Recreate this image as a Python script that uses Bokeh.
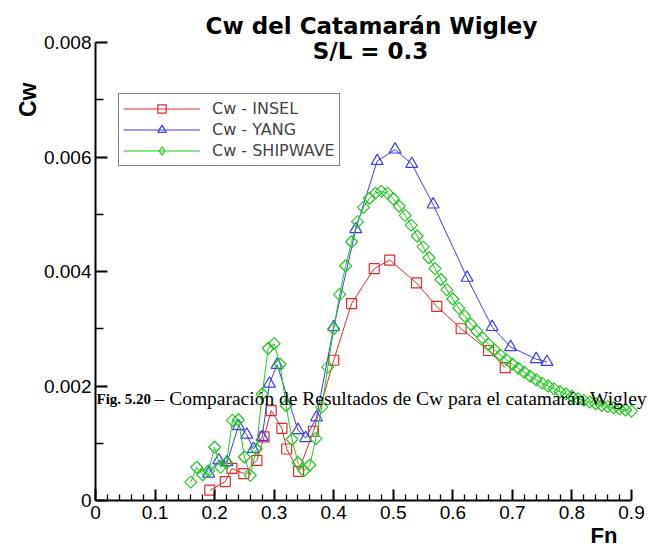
from bokeh.plotting import figure
from bokeh.models import (FixedTicker, Label, Legend, LegendItem, Range1d,
                          PrintfTickFormatter, Title, ColumnDataSource)
from bokeh.embed import file_html
from bokeh.resources import INLINE
import numpy as np

# ---- data ----
insel_fn = [0.192, 0.218, 0.229, 0.249, 0.271, 0.283, 0.295, 0.313, 0.321, 0.341,
            0.366, 0.400, 0.430, 0.468, 0.494, 0.539, 0.573, 0.614, 0.660, 0.688]
insel_cw = [0.00018, 0.00033, 0.00056, 0.00047, 0.00070, 0.00111, 0.00157, 0.00126,
            0.00090, 0.00051, 0.00121, 0.00245, 0.00344, 0.00405, 0.00420, 0.00380,
            0.00339, 0.00300, 0.00262, 0.00232]

yang_fn = [0.190, 0.207, 0.221, 0.240, 0.254, 0.265, 0.280, 0.292, 0.305, 0.340,
           0.353, 0.371, 0.400, 0.437, 0.473, 0.503, 0.531, 0.567, 0.624, 0.666,
           0.697, 0.740, 0.758]
yang_cw = [0.00047, 0.00070, 0.00067, 0.00130, 0.00115, 0.00090, 0.00111, 0.00204,
           0.00237, 0.00123, 0.00109, 0.00145, 0.00303, 0.00474, 0.00593, 0.00613,
           0.00588, 0.00517, 0.00389, 0.00303, 0.00268, 0.00247, 0.00242]

ship_fn = [0.16, 0.17, 0.18, 0.19, 0.20, 0.21, 0.22, 0.23, 0.24, 0.25,
           0.26, 0.27, 0.28, 0.29, 0.30, 0.31, 0.32, 0.33, 0.34, 0.35,
           0.36, 0.37, 0.38, 0.39, 0.40, 0.41, 0.42, 0.43, 0.44, 0.45,
           0.46, 0.47, 0.48, 0.49, 0.50, 0.51, 0.52, 0.53, 0.54, 0.55,
           0.56, 0.57, 0.58, 0.59, 0.60, 0.61, 0.62, 0.63, 0.64, 0.65,
           0.66, 0.67, 0.68, 0.69, 0.70, 0.71, 0.72, 0.73, 0.74, 0.75,
           0.76, 0.77, 0.78, 0.79, 0.80, 0.81, 0.82, 0.83, 0.84, 0.85,
           0.86, 0.87, 0.88, 0.89, 0.90]
ship_cw = [0.00032, 0.00058, 0.00045, 0.00052, 0.00093, 0.00058, 0.00066, 0.00140, 0.00141, 0.00076,
           0.00044, 0.00090, 0.00186, 0.00266, 0.00274, 0.00238, 0.00166, 0.00107, 0.00066, 0.00052,
           0.00062, 0.00108, 0.00163, 0.00233, 0.00300, 0.00360, 0.00410, 0.00452, 0.00487, 0.00512,
           0.00528, 0.00537, 0.00540, 0.00537, 0.00527, 0.00514, 0.00498, 0.00481, 0.00462, 0.00443,
           0.00424, 0.00405, 0.00386, 0.00368, 0.00352, 0.00336, 0.00322, 0.00308, 0.00296, 0.00284,
           0.00273, 0.00263, 0.00254, 0.00246, 0.00238, 0.00231, 0.00224, 0.00217, 0.00211, 0.00205,
           0.00200, 0.00195, 0.00190, 0.00186, 0.00182, 0.00178, 0.00175, 0.00172, 0.00169, 0.00166,
           0.00164, 0.00162, 0.00160, 0.00158, 0.00156]

x_ticks = [0.0, 0.1, 0.2, 0.3, 0.4, 0.5, 0.6, 0.7, 0.8, 0.9]
x_minor = [0.02, 0.04, 0.06, 0.08, 0.12, 0.14, 0.16, 0.18, 0.22, 0.24, 0.26, 0.28,
           0.32, 0.34, 0.36, 0.38, 0.42, 0.44, 0.46, 0.48, 0.52, 0.54, 0.56, 0.58,
           0.62, 0.64, 0.66, 0.68, 0.72, 0.74, 0.76, 0.78, 0.82, 0.84, 0.86, 0.88]
y_ticks = [0.0, 0.002, 0.004, 0.006, 0.008]
y_minor = [0.001, 0.003, 0.005, 0.007]

title_1 = "Cw del Catamarán Wigley"
title_2 = "S/L = 0.3"
x_label = "Fn"
y_label = "Cw"
caption_bold = "Fig. 5.20"
caption_text = "– Comparación de Resultados de Cw para el catamarán Wigley"

RED, BLUE, GREEN = "#e02a2a", "#3c3cf0", "#20c820"
SANS = "DejaVu Sans"
TICKFONT = "Liberation Sans"

X_END = 0.9 * (649 - 95) / 536
Y_END = 0.008 * 500 / 458

p = figure(width=649, height=550, output_backend="svg", toolbar_location=None,
           x_range=Range1d(0, X_END), y_range=Range1d(0, Y_END),
           min_border_left=95, min_border_right=0, min_border_top=0,
           min_border_bottom=50)
p.outline_line_color = None
p.xgrid.visible = False
p.ygrid.visible = False
p.background_fill_color = "white"
p.border_fill_color = "white"

for ax in (p.xaxis[0], p.yaxis[0]):
    ax.axis_line_width = 2
    ax.axis_line_color = "black"
    ax.major_tick_line_width = 2
    ax.minor_tick_line_width = 1.3
    ax.major_tick_out = 0
    ax.minor_tick_out = 0
    ax.major_label_text_font = TICKFONT
    ax.major_label_text_font_size = "19px"
    ax.major_label_text_color = "black"
    ax.formatter = PrintfTickFormatter(format="%g")

p.xaxis[0].ticker = FixedTicker(ticks=x_ticks, minor_ticks=x_minor)
p.xaxis[0].bounds = (0, 0.9)
p.xaxis[0].major_tick_in = 11
p.xaxis[0].minor_tick_in = 6
p.xaxis[0].major_label_standoff = 5

p.yaxis[0].ticker = FixedTicker(ticks=y_ticks, minor_ticks=y_minor)
p.yaxis[0].bounds = (0, 0.008)
p.yaxis[0].major_tick_in = 12
p.yaxis[0].minor_tick_in = 8
p.yaxis[0].major_label_standoff = 4

# series
l1 = p.line(insel_fn, insel_cw, line_color=RED, line_width=1)
s1 = p.scatter(insel_fn, insel_cw, marker="square", size=10, line_color=RED,
               fill_color=None, line_width=1.2)
l2 = p.line(yang_fn, yang_cw, line_color=BLUE, line_width=1)
s2 = p.scatter(yang_fn, yang_cw, marker="triangle", size=12, line_color=BLUE,
               fill_color=None, line_width=1.2)
l3 = p.line(ship_fn, ship_cw, line_color=GREEN, line_width=1)
ship_src = ColumnDataSource(dict(x=ship_fn, y=ship_cw,
                                 ang=[np.pi / 4] * len(ship_fn)))
s3 = p.scatter("x", "y", source=ship_src, marker="square", angle="ang", size=8.5,
               line_color=GREEN, fill_color=None, line_width=1.2)
# same series as a diamond marker, used only for the legend swatch
s3_leg = p.scatter("x", "y", source=ship_src, marker="diamond", size=12,
                   line_color=GREEN, fill_color=None, line_width=1.2, visible=False)

legend = Legend(items=[LegendItem(label="Cw - INSEL", renderers=[l1, s1]),
                       LegendItem(label="Cw - YANG", renderers=[l2, s2]),
                       LegendItem(label="Cw - SHIPWAVE", renderers=[l3, s3_leg])],
                location=(23, 334), border_line_color="black", border_line_width=1.5,
                padding=4, spacing=0, glyph_width=77, glyph_height=21,
                label_height=17, label_standoff=12, margin=0,
                label_text_font=SANS, label_text_font_size="16px",
                background_fill_color="white", background_fill_alpha=1)
p.add_layout(legend)

def px_x(px):
    return (px - 95) / 536 * 0.9

def px_y(py):
    return (500 - py) / 458 * 0.008

p.add_layout(Label(x=px_x(371), y=px_y(25), text=title_1, text_align="center",
                   text_baseline="middle", text_font=SANS, text_font_style="bold",
                   text_font_size="23px", text_color="black"))
p.add_layout(Label(x=px_x(370), y=px_y(50), text=title_2, text_align="center",
                   text_baseline="middle", text_font=SANS, text_font_style="bold",
                   text_font_size="23px", text_color="black"))
p.add_layout(Label(x=px_x(96), y=px_y(398), text=caption_bold, text_align="left",
                   text_baseline="middle", text_font="Liberation Serif",
                   text_font_style="bold", text_font_size="15px", text_color="black"))
p.add_layout(Label(x=px_x(154), y=px_y(398), text=caption_text, text_align="left",
                   text_baseline="middle", text_font="Liberation Serif",
                   text_font_size="19.5px", text_color="black"))

p.add_layout(Title(text=x_label, align="right", offset=32, standoff=-1,
                   text_font="Liberation Sans", text_font_style="bold",
                   text_font_size="22px", text_color="black"), "below")
p.add_layout(Title(text=y_label, align="right", offset=82, standoff=0,
                   text_font="Liberation Sans", text_font_style="bold",
                   text_font_size="23px", text_color="black"), "left")

open("out.html", "w").write(file_html(p, INLINE))
